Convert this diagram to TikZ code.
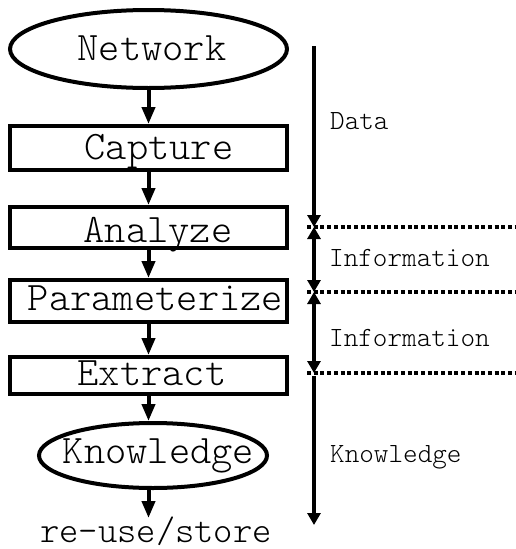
\documentclass[tikz,border=0pt]{standalone}
\usetikzlibrary{shapes.geometric,arrows.meta}
\tikzset{
  big/.style={font=\ttfamily\fontseries{l}\fontsize{40.5}{44}\selectfont},
  small/.style={font=\ttfamily\fontseries{l}\fontsize{27.8}{30}\selectfont},
  ovalbox/.style={draw,line width=4pt,ellipse,inner sep=0pt},
  stepbox/.style={draw,line width=4pt,rectangle,inner sep=0pt,minimum width=277pt},
  flow/.style={line width=4pt,-{Triangle[length=17pt,width=13pt]}},
  sideflow/.style={line width=4pt,-{Triangle[length=12pt,width=13pt]}},
  bothways/.style={line width=4pt,{Triangle[length=12pt,width=13pt]}-{Triangle[length=12pt,width=13pt]}},
  dotline/.style={line width=4.5pt,dash pattern=on 4pt off 2.7pt},
  boxtext/.style={big,inner sep=0pt,anchor=base},
  sidelabel/.style={small,anchor=base west,inner sep=0pt}
}
\begin{document}
\begin{tikzpicture}[x=1pt,y=-1pt]
\useasboundingbox (0,0) rectangle (516,549);
% process chain: frames
\node[ovalbox,minimum width=277pt,minimum height=78pt] (net) at (148.5,49) {};
\node[stepbox,minimum height=44pt] (cap) at (148.5,148) {};
\node[stepbox,minimum height=41pt] (ana) at (148.5,227.5) {};
\node[stepbox,minimum height=42pt] (par) at (148.5,301) {};
\node[stepbox,minimum height=37pt] (ext) at (148.5,375.5) {};
\node[ovalbox,minimum width=228pt,minimum height=65pt] (kno) at (153,455.5) {};
% process chain: captions (placed by baseline)
\node[boxtext] (netT) at (152,60) {Network};
\node[boxtext] (capT) at (159,159) {Capture};
\node[boxtext] (anaT) at (158,242) {Analyze};
\node[boxtext] (parT) at (155.5,310) {Parameterize};
\node[boxtext] (extT) at (152,385) {Extract};
\node[boxtext] (knoT) at (158.5,463) {Knowledge};
\node[boxtext,font=\ttfamily\fontseries{l}\fontsize{36.8}{40}\selectfont] (out) at (156,542) {re-use/store};
\coordinate (outtop) at (148.5,518);
\draw[flow] (net) -- (cap);
\draw[flow] (cap) -- (ana);
\draw[flow] (ana) -- (par);
\draw[flow] (par) -- (ext);
\draw[flow] (ext.south) -- (ext.south |- kno.north);
\draw[flow] (kno.south -| outtop) -- (outtop);
% stage scale on the right
\coordinate (s0) at (314,46);
\coordinate (s1) at (314,227);
\coordinate (s2) at (314,292);
\coordinate (s3) at (314,373);
\coordinate (s4) at (314,525);
\coordinate (s4a) at (314,376);
\coordinate (d1) at (516,227);
\coordinate (d2) at (516,292);
\coordinate (d3) at (516,373);
\draw[dotline] (307,227) -- (d1);
\draw[dotline] (307,292) -- (d2);
\draw[dotline] (307,373) -- (d3);
\draw[sideflow] (s0) -- (s1);
\draw[bothways] (s1) -- (s2);
\draw[bothways] (s2) -- (s3);
\draw[sideflow] (s4a) -- (s4);
\node[sidelabel] (ldata) at (330,129) {Data};
\node[sidelabel] (linf1) at (329,266) {Information};
\node[sidelabel] (linf2) at (329,346) {Information};
\node[sidelabel] (lkno) at (330,462) {Knowledge};
\end{tikzpicture}
\end{document}
